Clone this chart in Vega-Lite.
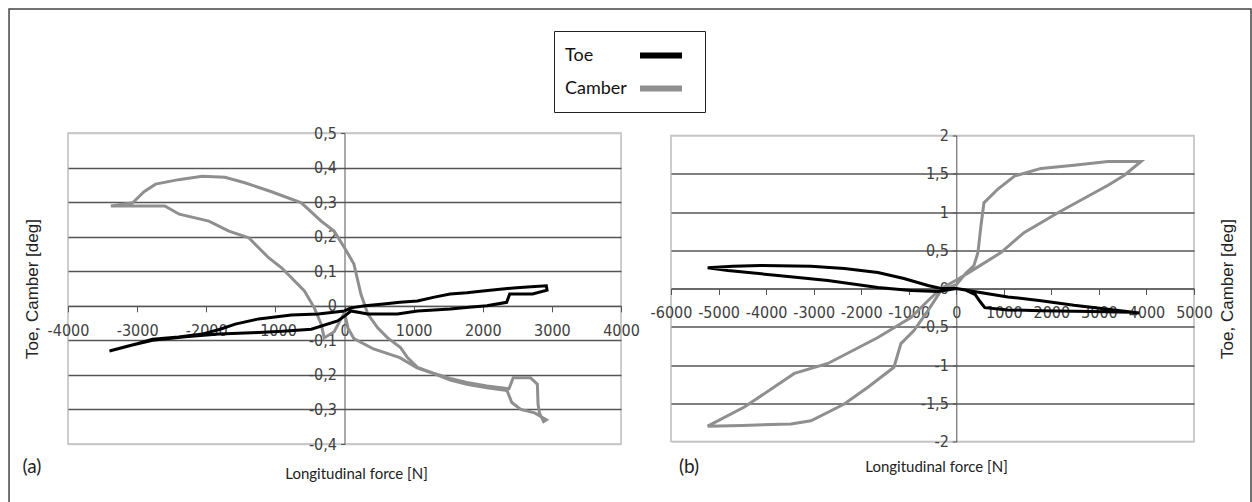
{
  "$schema": "https://vega.github.io/schema/vega-lite/v6.json",
  "padding": {"left": 7, "top": 7, "right": 0, "bottom": 0},
  "background": "white",
  "bounds": "flush",
  "center": true,
  "config": {"view": {"stroke": "#bdbdbd", "strokeWidth": 1.5}, "font": "Liberation Sans"},
  "data": {"values": [
    {"p":"a","s":"Camber","i":0,"x":0,"y":-0.02},
    {"p":"a","s":"Camber","i":1,"x":50,"y":-0.064},
    {"p":"a","s":"Camber","i":2,"x":136,"y":-0.095},
    {"p":"a","s":"Camber","i":3,"x":420,"y":-0.125},
    {"p":"a","s":"Camber","i":4,"x":800,"y":-0.15},
    {"p":"a","s":"Camber","i":5,"x":1050,"y":-0.18},
    {"p":"a","s":"Camber","i":6,"x":1300,"y":-0.197},
    {"p":"a","s":"Camber","i":7,"x":1530,"y":-0.215},
    {"p":"a","s":"Camber","i":8,"x":1770,"y":-0.227},
    {"p":"a","s":"Camber","i":9,"x":2060,"y":-0.237},
    {"p":"a","s":"Camber","i":10,"x":2350,"y":-0.245},
    {"p":"a","s":"Camber","i":11,"x":2420,"y":-0.28},
    {"p":"a","s":"Camber","i":12,"x":2550,"y":-0.3},
    {"p":"a","s":"Camber","i":13,"x":2750,"y":-0.31},
    {"p":"a","s":"Camber","i":14,"x":2920,"y":-0.33},
    {"p":"a","s":"Camber","i":15,"x":2880,"y":-0.335},
    {"p":"a","s":"Camber","i":16,"x":2820,"y":-0.31},
    {"p":"a","s":"Camber","i":17,"x":2800,"y":-0.285},
    {"p":"a","s":"Camber","i":18,"x":2790,"y":-0.227},
    {"p":"a","s":"Camber","i":19,"x":2690,"y":-0.208},
    {"p":"a","s":"Camber","i":20,"x":2440,"y":-0.208},
    {"p":"a","s":"Camber","i":21,"x":2380,"y":-0.24},
    {"p":"a","s":"Camber","i":22,"x":2060,"y":-0.232},
    {"p":"a","s":"Camber","i":23,"x":1770,"y":-0.222},
    {"p":"a","s":"Camber","i":24,"x":1530,"y":-0.21},
    {"p":"a","s":"Camber","i":25,"x":1285,"y":-0.195},
    {"p":"a","s":"Camber","i":26,"x":1055,"y":-0.178},
    {"p":"a","s":"Camber","i":27,"x":911,"y":-0.15},
    {"p":"a","s":"Camber","i":28,"x":811,"y":-0.121},
    {"p":"a","s":"Camber","i":29,"x":624,"y":-0.093},
    {"p":"a","s":"Camber","i":30,"x":480,"y":-0.064},
    {"p":"a","s":"Camber","i":31,"x":337,"y":-0.024},
    {"p":"a","s":"Camber","i":32,"x":237,"y":0.034},
    {"p":"a","s":"Camber","i":33,"x":136,"y":0.121},
    {"p":"a","s":"Camber","i":34,"x":0,"y":0.168},
    {"p":"a","s":"Camber","i":35,"x":-151,"y":0.216},
    {"p":"a","s":"Camber","i":36,"x":-337,"y":0.245},
    {"p":"a","s":"Camber","i":37,"x":-624,"y":0.298},
    {"p":"a","s":"Camber","i":38,"x":-1055,"y":0.33},
    {"p":"a","s":"Camber","i":39,"x":-1442,"y":0.356},
    {"p":"a","s":"Camber","i":40,"x":-1730,"y":0.372},
    {"p":"a","s":"Camber","i":41,"x":-2060,"y":0.375},
    {"p":"a","s":"Camber","i":42,"x":-2400,"y":0.365},
    {"p":"a","s":"Camber","i":43,"x":-2733,"y":0.352},
    {"p":"a","s":"Camber","i":44,"x":-2900,"y":0.33},
    {"p":"a","s":"Camber","i":45,"x":-3064,"y":0.298},
    {"p":"a","s":"Camber","i":46,"x":-3380,"y":0.289},
    {"p":"a","s":"Camber","i":47,"x":-2600,"y":0.289},
    {"p":"a","s":"Camber","i":48,"x":-2390,"y":0.265},
    {"p":"a","s":"Camber","i":49,"x":-1962,"y":0.245},
    {"p":"a","s":"Camber","i":50,"x":-1672,"y":0.216},
    {"p":"a","s":"Camber","i":51,"x":-1385,"y":0.197},
    {"p":"a","s":"Camber","i":52,"x":-1242,"y":0.168},
    {"p":"a","s":"Camber","i":53,"x":-1098,"y":0.139},
    {"p":"a","s":"Camber","i":54,"x":-911,"y":0.11},
    {"p":"a","s":"Camber","i":55,"x":-768,"y":0.081},
    {"p":"a","s":"Camber","i":56,"x":-580,"y":0.043},
    {"p":"a","s":"Camber","i":57,"x":-437,"y":-0.006},
    {"p":"a","s":"Camber","i":58,"x":-337,"y":-0.053},
    {"p":"a","s":"Camber","i":59,"x":-294,"y":-0.093},
    {"p":"a","s":"Camber","i":60,"x":-150,"y":-0.075},
    {"p":"a","s":"Camber","i":61,"x":0,"y":-0.02},
    {"p":"a","s":"Toe","i":0,"x":0,"y":-0.015},
    {"p":"a","s":"Toe","i":1,"x":93,"y":-0.006},
    {"p":"a","s":"Toe","i":2,"x":300,"y":0.0},
    {"p":"a","s":"Toe","i":3,"x":567,"y":0.005},
    {"p":"a","s":"Toe","i":4,"x":800,"y":0.01},
    {"p":"a","s":"Toe","i":5,"x":1055,"y":0.014},
    {"p":"a","s":"Toe","i":6,"x":1300,"y":0.025},
    {"p":"a","s":"Toe","i":7,"x":1528,"y":0.034},
    {"p":"a","s":"Toe","i":8,"x":1770,"y":0.038},
    {"p":"a","s":"Toe","i":9,"x":2002,"y":0.043},
    {"p":"a","s":"Toe","i":10,"x":2250,"y":0.048},
    {"p":"a","s":"Toe","i":11,"x":2490,"y":0.052},
    {"p":"a","s":"Toe","i":12,"x":2700,"y":0.055},
    {"p":"a","s":"Toe","i":13,"x":2920,"y":0.058},
    {"p":"a","s":"Toe","i":14,"x":2930,"y":0.045},
    {"p":"a","s":"Toe","i":15,"x":2720,"y":0.034},
    {"p":"a","s":"Toe","i":16,"x":2390,"y":0.034},
    {"p":"a","s":"Toe","i":17,"x":2346,"y":0.01},
    {"p":"a","s":"Toe","i":18,"x":2059,"y":0.0},
    {"p":"a","s":"Toe","i":19,"x":1800,"y":-0.004},
    {"p":"a","s":"Toe","i":20,"x":1528,"y":-0.009},
    {"p":"a","s":"Toe","i":21,"x":1300,"y":-0.012},
    {"p":"a","s":"Toe","i":22,"x":1055,"y":-0.015},
    {"p":"a","s":"Toe","i":23,"x":767,"y":-0.024},
    {"p":"a","s":"Toe","i":24,"x":337,"y":-0.024},
    {"p":"a","s":"Toe","i":25,"x":93,"y":-0.015},
    {"p":"a","s":"Toe","i":26,"x":0,"y":-0.03},
    {"p":"a","s":"Toe","i":27,"x":-100,"y":-0.044},
    {"p":"a","s":"Toe","i":28,"x":-480,"y":-0.068},
    {"p":"a","s":"Toe","i":29,"x":-900,"y":-0.074},
    {"p":"a","s":"Toe","i":30,"x":-1342,"y":-0.078},
    {"p":"a","s":"Toe","i":31,"x":-1816,"y":-0.082},
    {"p":"a","s":"Toe","i":32,"x":-2300,"y":-0.09},
    {"p":"a","s":"Toe","i":33,"x":-2777,"y":-0.1},
    {"p":"a","s":"Toe","i":34,"x":-3100,"y":-0.115},
    {"p":"a","s":"Toe","i":35,"x":-3400,"y":-0.131},
    {"p":"a","s":"Toe","i":36,"x":-3000,"y":-0.11},
    {"p":"a","s":"Toe","i":37,"x":-2777,"y":-0.097},
    {"p":"a","s":"Toe","i":38,"x":-2400,"y":-0.09},
    {"p":"a","s":"Toe","i":39,"x":-2059,"y":-0.082},
    {"p":"a","s":"Toe","i":40,"x":-1800,"y":-0.068},
    {"p":"a","s":"Toe","i":41,"x":-1580,"y":-0.053},
    {"p":"a","s":"Toe","i":42,"x":-1242,"y":-0.038},
    {"p":"a","s":"Toe","i":43,"x":-768,"y":-0.027},
    {"p":"a","s":"Toe","i":44,"x":-380,"y":-0.024},
    {"p":"a","s":"Toe","i":45,"x":0,"y":-0.015},
    {"p":"b","s":"Toe","i":0,"x":0,"y":0.0},
    {"p":"b","s":"Toe","i":1,"x":372,"y":-0.04},
    {"p":"b","s":"Toe","i":2,"x":1087,"y":-0.11},
    {"p":"b","s":"Toe","i":3,"x":1782,"y":-0.16},
    {"p":"b","s":"Toe","i":4,"x":2475,"y":-0.22},
    {"p":"b","s":"Toe","i":5,"x":3192,"y":-0.27},
    {"p":"b","s":"Toe","i":6,"x":3850,"y":-0.32},
    {"p":"b","s":"Toe","i":7,"x":3674,"y":-0.31},
    {"p":"b","s":"Toe","i":8,"x":2833,"y":-0.3},
    {"p":"b","s":"Toe","i":9,"x":1782,"y":-0.29},
    {"p":"b","s":"Toe","i":10,"x":1087,"y":-0.28},
    {"p":"b","s":"Toe","i":11,"x":600,"y":-0.25},
    {"p":"b","s":"Toe","i":12,"x":500,"y":-0.17},
    {"p":"b","s":"Toe","i":13,"x":400,"y":-0.08},
    {"p":"b","s":"Toe","i":14,"x":200,"y":-0.02},
    {"p":"b","s":"Toe","i":15,"x":0,"y":0.0},
    {"p":"b","s":"Toe","i":16,"x":-385,"y":-0.04},
    {"p":"b","s":"Toe","i":17,"x":-953,"y":-0.026},
    {"p":"b","s":"Toe","i":18,"x":-1649,"y":0.013},
    {"p":"b","s":"Toe","i":19,"x":-2700,"y":0.105},
    {"p":"b","s":"Toe","i":20,"x":-3752,"y":0.17},
    {"p":"b","s":"Toe","i":21,"x":-4803,"y":0.235},
    {"p":"b","s":"Toe","i":22,"x":-5228,"y":0.27},
    {"p":"b","s":"Toe","i":23,"x":-4700,"y":0.29},
    {"p":"b","s":"Toe","i":24,"x":-4107,"y":0.3},
    {"p":"b","s":"Toe","i":25,"x":-3056,"y":0.29},
    {"p":"b","s":"Toe","i":26,"x":-2356,"y":0.26},
    {"p":"b","s":"Toe","i":27,"x":-1649,"y":0.21},
    {"p":"b","s":"Toe","i":28,"x":-1101,"y":0.13},
    {"p":"b","s":"Toe","i":29,"x":-596,"y":0.04},
    {"p":"b","s":"Toe","i":30,"x":-322,"y":0.0},
    {"p":"b","s":"Toe","i":31,"x":0,"y":0.0},
    {"p":"b","s":"Camber","i":0,"x":0,"y":0.05},
    {"p":"b","s":"Camber","i":1,"x":200,"y":0.2},
    {"p":"b","s":"Camber","i":2,"x":372,"y":0.3},
    {"p":"b","s":"Camber","i":3,"x":456,"y":0.47},
    {"p":"b","s":"Camber","i":4,"x":519,"y":0.82},
    {"p":"b","s":"Camber","i":5,"x":582,"y":1.12},
    {"p":"b","s":"Camber","i":6,"x":876,"y":1.3},
    {"p":"b","s":"Camber","i":7,"x":1225,"y":1.47},
    {"p":"b","s":"Camber","i":8,"x":1782,"y":1.57},
    {"p":"b","s":"Camber","i":9,"x":2475,"y":1.61},
    {"p":"b","s":"Camber","i":10,"x":3192,"y":1.66},
    {"p":"b","s":"Camber","i":11,"x":3886,"y":1.66},
    {"p":"b","s":"Camber","i":12,"x":3535,"y":1.48},
    {"p":"b","s":"Camber","i":13,"x":3192,"y":1.35},
    {"p":"b","s":"Camber","i":14,"x":2693,"y":1.18},
    {"p":"b","s":"Camber","i":15,"x":2138,"y":0.99},
    {"p":"b","s":"Camber","i":16,"x":1424,"y":0.73},
    {"p":"b","s":"Camber","i":17,"x":940,"y":0.47},
    {"p":"b","s":"Camber","i":18,"x":372,"y":0.25},
    {"p":"b","s":"Camber","i":19,"x":36,"y":0.12},
    {"p":"b","s":"Camber","i":20,"x":-322,"y":0.0},
    {"p":"b","s":"Camber","i":21,"x":-596,"y":-0.16},
    {"p":"b","s":"Camber","i":22,"x":-953,"y":-0.38},
    {"p":"b","s":"Camber","i":23,"x":-1649,"y":-0.64},
    {"p":"b","s":"Camber","i":24,"x":-2700,"y":-0.98},
    {"p":"b","s":"Camber","i":25,"x":-3406,"y":-1.11},
    {"p":"b","s":"Camber","i":26,"x":-4457,"y":-1.55},
    {"p":"b","s":"Camber","i":27,"x":-5228,"y":-1.8},
    {"p":"b","s":"Camber","i":28,"x":-4500,"y":-1.79},
    {"p":"b","s":"Camber","i":29,"x":-3476,"y":-1.77},
    {"p":"b","s":"Camber","i":30,"x":-3056,"y":-1.73},
    {"p":"b","s":"Camber","i":31,"x":-2356,"y":-1.51},
    {"p":"b","s":"Camber","i":32,"x":-1859,"y":-1.29},
    {"p":"b","s":"Camber","i":33,"x":-1311,"y":-1.03},
    {"p":"b","s":"Camber","i":34,"x":-1164,"y":-0.72},
    {"p":"b","s":"Camber","i":35,"x":-890,"y":-0.55},
    {"p":"b","s":"Camber","i":36,"x":-596,"y":-0.29},
    {"p":"b","s":"Camber","i":37,"x":-322,"y":-0.03},
    {"p":"b","s":"Camber","i":38,"x":0,"y":0.05},
    {"p":"a","s":"tag","i":0,"x":-4521,"y":-0.466,"t":"(a)"},
    {"p":"b","s":"tag","i":0,"x":-5621,"y":-2.333,"t":"(b)"},
    {"p":"a","s":"frame","i":0,"x":-4853,"x2":13114,"y":0.8588,"y2":-0.62}
  ]},
  "spacing": 50,
  "hconcat": [
    {
      "width": 553,
      "height": 311,
      "layer": [
        {
          "transform": [{"filter": "datum.p === 'a' && datum.s === 'Camber'"}],
          "mark": {"type": "line", "strokeWidth": 3},
          "encoding": {
            "x": {"field": "x", "type": "quantitative", "scale": {"domain": [-4000, 4000], "nice": false, "zero": false},
              "axis": {"offset": -138.2, "values": [-4000,-3000,-2000,-1000,0,1000,2000,3000,4000], "grid": false,
                "labelExpr": "replace(replace(format(datum.value,'~g'),'.',','),'\u2212','-')",
                "domainColor": "#555555", "tickColor": "#555555", "tickSize": 6, "labelPadding": 11,
                "labelFont": "Liberation Sans Narrow, DejaVu Sans Condensed, sans-serif", "labelFontSize": 16, "labelColor": "#404040",
                "labelFlush": false, "labelOverlap": false,
                "title": "Longitudinal force [N]", "titleX": 288, "titleY": 168, "titleBaseline": "middle",
                "titleFont": "Lato", "titleFontSize": 15, "titleFontWeight": "normal", "titleColor": "#222222"}},
            "y": {"field": "y", "type": "quantitative", "scale": {"domain": [-0.4, 0.5], "nice": false, "zero": false},
              "axis": {"orient": "left", "offset": -276.5, "values": [-0.4,-0.3,-0.2,-0.1,0,0.1,0.2,0.3,0.4,0.5], "grid": false,
                "labelExpr": "replace(replace(format(datum.value,'~g'),'.',','),'\u2212','-')",
                "domainColor": "#555555", "tickColor": "#555555", "tickSize": 4, "labelPadding": 4,
                "labelFont": "Liberation Sans Narrow, DejaVu Sans Condensed, sans-serif", "labelFontSize": 16, "labelColor": "#404040",
                "labelFlush": false, "labelOverlap": false, "title": null}},
            "order": {"field": "i", "type": "quantitative"},
            "color": {"field": "s", "type": "nominal", "scale": {"domain": ["Toe", "Camber"], "range": ["#000000", "#8f8f8f"]},
              "legend": {"orient": "none", "legendX": 486, "legendY": -102, "title": null, "symbolType": "M-2,0H2",
                "symbolSize": 441, "symbolStrokeWidth": 6, "symbolOffset": 82.5, "labelOffset": -109.5,
                "labelFont": "Lato", "labelFontSize": 18, "labelColor": "#111111", "rowPadding": 7,
                "padding": 11, "strokeColor": "#222222", "fillColor": "white"}}
          }
        },
        {
          "transform": [{"filter": "datum.p === 'a' && datum.s === 'Toe'"}],
          "mark": {"type": "line", "strokeWidth": 3},
          "encoding": {
            "x": {"field": "x", "type": "quantitative", "scale": {"domain": [-4000, 4000], "nice": false, "zero": false}},
            "y": {"field": "y", "type": "quantitative", "scale": {"domain": [-0.4, 0.5], "nice": false, "zero": false},
              "axis": {"orient": "left", "values": [-0.4,-0.3,-0.2,-0.1,0,0.1,0.2,0.3,0.4,0.5], "labels": false, "ticks": false, "domain": false,
                "grid": true, "gridColor": {"condition": {"test": "datum.value === 0.5 || datum.value === -0.4", "value": "#c8c8c8"}, "value": "#555555"},
                "gridWidth": 1.5,
                "title": "Toe, Camber [deg]", "titlePadding": 27, "titleFont": "Liberation Sans", "titleFontSize": 17,
                "titleFontWeight": "normal", "titleColor": "#222222"}},
            "order": {"field": "i", "type": "quantitative"},
            "color": {"field": "s", "type": "nominal", "scale": {"domain": ["Toe", "Camber"], "range": ["#000000", "#8f8f8f"]}}
          }
        },
        {
          "transform": [{"filter": "datum.p === 'a' && datum.s === 'tag'"}],
          "mark": {"type": "text", "font": "Lato", "fontSize": 19, "color": "#222222"},
          "encoding": {
            "x": {"field": "x", "type": "quantitative", "scale": {"domain": [-4000, 4000], "nice": false, "zero": false}},
            "y": {"field": "y", "type": "quantitative", "scale": {"domain": [-0.4, 0.5], "nice": false, "zero": false}, "axis": null},
            "text": {"field": "t"}
          }
        },
        {
          "transform": [{"filter": "datum.s === 'frame'"}],
          "mark": {"type": "rect", "fill": null, "stroke": "#444444", "strokeWidth": 1.5},
          "encoding": {
            "x": {"field": "x", "type": "quantitative", "scale": {"domain": [-4000, 4000], "nice": false, "zero": false}},
            "x2": {"field": "x2"},
            "y": {"field": "y", "type": "quantitative", "scale": {"domain": [-0.4, 0.5], "nice": false, "zero": false}, "axis": null},
            "y2": {"field": "y2"}
          }
        }
      ],
      "resolve": {"axis": {"y": "independent"}}
    },
    {
      "width": 523,
      "height": 306,
      "layer": [
        {
          "transform": [{"filter": "datum.p === 'b' && datum.s === 'Camber'"}],
          "mark": {"type": "line", "strokeWidth": 3},
          "encoding": {
            "x": {"field": "x", "type": "quantitative", "scale": {"domain": [-6000, 5000], "nice": false, "zero": false},
              "axis": {"offset": -153, "values": [-6000,-5000,-4000,-3000,-2000,-1000,0,1000,2000,3000,4000,5000], "grid": false,
                "labelExpr": "replace(replace(format(datum.value,'~g'),'.',','),'\u2212','-')",
                "domainColor": "#555555", "tickColor": "#555555", "tickSize": 6, "labelPadding": 10,
                "labelFont": "Liberation Sans Narrow, DejaVu Sans Condensed, sans-serif", "labelFontSize": 16, "labelColor": "#404040",
                "labelFlush": false, "labelOverlap": false,
                "title": "Longitudinal force [N]", "titleX": 265, "titleY": 178, "titleBaseline": "middle",
                "titleFont": "Lato", "titleFontSize": 15, "titleFontWeight": "normal", "titleColor": "#222222"}},
            "y": {"field": "y", "type": "quantitative", "scale": {"domain": [-2, 2], "nice": false, "zero": false},
              "axis": {"orient": "left", "offset": -285.3, "values": [-2,-1.5,-1,-0.5,0,0.5,1,1.5,2], "grid": false,
                "labelExpr": "replace(replace(format(datum.value,'~g'),'.',','),'\u2212','-')",
                "domainColor": "#555555", "tickColor": "#555555", "tickSize": 4, "labelPadding": 4,
                "labelFont": "Liberation Sans Narrow, DejaVu Sans Condensed, sans-serif", "labelFontSize": 16, "labelColor": "#404040",
                "labelFlush": false, "labelOverlap": false, "title": null}},
            "order": {"field": "i", "type": "quantitative"},
            "color": {"field": "s", "type": "nominal", "scale": {"domain": ["Toe", "Camber"], "range": ["#000000", "#8f8f8f"]}}
          }
        },
        {
          "transform": [{"filter": "datum.p === 'b' && datum.s === 'Toe'"}],
          "mark": {"type": "line", "strokeWidth": 3},
          "encoding": {
            "x": {"field": "x", "type": "quantitative", "scale": {"domain": [-6000, 5000], "nice": false, "zero": false}},
            "y": {"field": "y", "type": "quantitative", "scale": {"domain": [-2, 2], "nice": false, "zero": false},
              "axis": {"orient": "right", "values": [-2,-1.5,-1,-0.5,0,0.5,1,1.5,2], "labels": false, "ticks": false, "domain": false,
                "grid": true, "gridColor": {"condition": {"test": "datum.value === 2 || datum.value === -2", "value": "#c8c8c8"}, "value": "#555555"},
                "gridWidth": 1.5,
                "title": "Toe, Camber [deg]", "titlePadding": 25, "titleAngle": 270, "titleBaseline": "top",
                "titleFont": "Liberation Sans", "titleFontSize": 17, "titleFontWeight": "normal", "titleColor": "#222222"}},
            "order": {"field": "i", "type": "quantitative"},
            "color": {"field": "s", "type": "nominal", "scale": {"domain": ["Toe", "Camber"], "range": ["#000000", "#8f8f8f"]}}
          }
        },
        {
          "transform": [{"filter": "datum.p === 'b' && datum.s === 'tag'"}],
          "mark": {"type": "text", "font": "Lato", "fontSize": 19, "color": "#222222"},
          "encoding": {
            "x": {"field": "x", "type": "quantitative", "scale": {"domain": [-6000, 5000], "nice": false, "zero": false}},
            "y": {"field": "y", "type": "quantitative", "scale": {"domain": [-2, 2], "nice": false, "zero": false}, "axis": null},
            "text": {"field": "t"}
          }
        }
      ],
      "resolve": {"axis": {"y": "independent"}}
    }
  ]
}
